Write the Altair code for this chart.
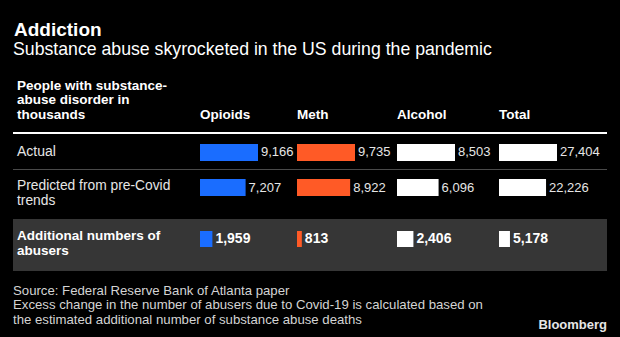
import altair as alt
import pandas as pd

# ---------------- data ----------------
substances = ["Opioids", "Meth", "Alcohol", "Total"]
row_keys = ["Actual", "Predicted", "Additional"]
actual = [9166, 9735, 8503, 27404]
predicted = [7207, 8922, 6096, 22226]
additional = [1959, 813, 2406, 5178]
bar_colors = ["#1a6dff", "#ff5a26", "#ffffff", "#ffffff"]
row_labels = [["Actual"], ["Predicted from pre-Covid", "trends"], ["Additional numbers of", "abusers"]]

title_text = "Addiction"
subtitle_text = "Substance abuse skyrocketed in the US during the pandemic"
header_text = ["People with substance-", "abuse disorder in", "thousands"]
source_text = [
    "Source: Federal Reserve Bank of Atlanta paper",
    "Excess change in the number of abusers due to Covid-19 is calculated based on",
    "the estimated additional number of substance abuse deaths",
]
logo_text = "Bloomberg"

records = []
for i, s in enumerate(substances):
    for r, vals in zip(row_keys, [actual, predicted, additional]):
        records.append({"substance": s, "row": r, "value": vals[i]})
df = pd.DataFrame(records)

# ---------------- layout constants ----------------
W, H = 620, 337
FONT = "Liberation Sans"
col_x = [200, 297, 397, 499]
BAR_LEN = 58
one = pd.DataFrame({"k": [0]})


def static_text(txt, x, y, size, weight="normal", color="#ffffff", align="left", line_height=None):
    kw = dict(align=align, baseline="alphabetic", font=FONT, fontSize=size,
              fontWeight=weight, color=color)
    if line_height is not None:
        kw["lineHeight"] = line_height
    return alt.Chart(one).mark_text(**kw).encode(
        x=alt.value(x), y=alt.value(y), text=alt.value(txt)
    )


layers = []

# gray band for "Additional" row
layers.append(
    alt.Chart(one).mark_rect(color="#363636").encode(
        x=alt.value(13), x2=alt.value(607), y=alt.value(219), y2=alt.value(271)
    )
)
# header rule and divider
layers.append(
    alt.Chart(one).mark_rule(color="#ffffff", strokeWidth=2).encode(
        x=alt.value(13), x2=alt.value(607), y=alt.value(133)
    )
)
layers.append(
    alt.Chart(one).mark_rule(color="#4a4a4a", strokeWidth=1).encode(
        x=alt.value(13), x2=alt.value(607), y=alt.value(169.5)
    )
)

# bars and value labels per column
for i, s in enumerate(substances):
    xs = alt.Scale(domain=[0, actual[i]], range=[col_x[i], col_x[i] + BAR_LEN], nice=False)
    d = df[df.substance == s]

    top = d[d.row.isin(["Actual", "Predicted"])]
    base_top = alt.Chart(top).encode(
        x=alt.X("value:Q", scale=xs, axis=None),
        y=alt.Y("row:N", axis=None,
                scale=alt.Scale(domain=["Actual", "Predicted"], range=[135, 205],
                                paddingInner=0.5143, paddingOuter=0.2571)),
    )
    layers.append(alt.layer(
        base_top.mark_bar(color=bar_colors[i]),
        base_top.mark_text(align="left", baseline="middle", dx=3, font=FONT,
                           fontSize=13, color="#e6e6e6").encode(
            text=alt.Text("value:Q", format=",")),
    ))

    bot = d[d.row == "Additional"]
    base_bot = alt.Chart(bot).encode(
        x=alt.X("value:Q", scale=xs, axis=None),
        y=alt.Y("row:N", axis=None,
                scale=alt.Scale(domain=["Additional"], range=[231, 247],
                                paddingInner=0, paddingOuter=0)),
    )
    layers.append(alt.layer(
        base_bot.mark_bar(color=bar_colors[i]),
        base_bot.mark_text(align="left", baseline="middle", dx=3, font=FONT,
                           fontSize=14, fontWeight="bold", color="#ffffff").encode(
            text=alt.Text("value:Q", format=",")),
    ))

    # column header
    layers.append(static_text(s, col_x[i], 119, 13.5, weight="bold"))

# titles
layers.append(static_text(title_text, 14, 36, 19, weight="bold"))
layers.append(static_text(subtitle_text, 13, 55, 17.7))
layers.append(static_text(header_text, 17, 90, 13.5, weight="bold", line_height=14.4))

# row labels
layers.append(static_text(row_labels[0], 17, 156, 14, color="#e6e6e6"))
layers.append(static_text(row_labels[1], 17, 189.5, 13.8, color="#e6e6e6", line_height=15))
layers.append(static_text(row_labels[2], 17, 240, 13.5, weight="bold", line_height=15))

# footer
layers.append(static_text(source_text, 13, 295, 13.2, color="#d4d4d4", line_height=14.3))
layers.append(static_text(logo_text, 607, 329, 13, weight="bold", color="#e6e6e6", align="right"))

chart = alt.layer(*layers).resolve_scale(x="independent", y="independent").properties(
    width=W, height=H, padding=0, autosize=alt.AutoSizeParams(type="none"),
    background="#000000",
).configure_view(stroke=None)

chart.save("out.html", embed_options={"renderer": "svg", "actions": False})
